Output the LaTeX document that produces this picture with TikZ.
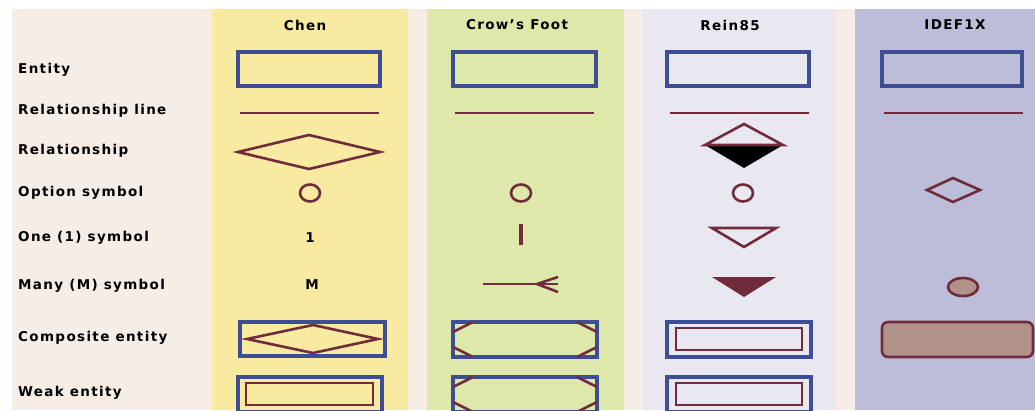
\documentclass[tikz,border=0pt]{standalone}
\usepackage{fontspec}
\newfontfamily\erfont[LetterSpace=10]{DejaVu Sans}
\usetikzlibrary{positioning}
\definecolor{erbg}{RGB}{246,237,230}
\definecolor{chenbg}{RGB}{248,234,160}
\definecolor{crowbg}{RGB}{222,232,170}
\definecolor{reinbg}{RGB}{233,231,240}
\definecolor{idefbg}{RGB}{188,189,216}
\definecolor{erblue}{RGB}{62,78,148}
\definecolor{ermaroon}{RGB}{112,44,60}
\definecolor{erbrown}{RGB}{176,146,136}

% entity box: x, y (top), width
\newcommand{\entbox}[3]{
  \draw[entline] (#1,#2) rectangle +(#3,34);
}
% box with a second box inside: x, y (top)
\newcommand{\dblbox}[2]{
  \draw[entline] (#1,#2) rectangle +(144,35);
  \draw[relline] (#1+9,#2+6) rectangle +(126,22);
}
% crow's foot composite box with the cut corners
\newcommand{\cutbox}[2]{
  \draw[entline] (#1,#2) rectangle +(144,35);
  \draw[relline] (#1,#2+10) -- +(20,-10);
  \draw[relline] (#1,#2+25) -- +(20,10);
  \draw[relline] (#1+144,#2+10) -- +(-20,-10);
  \draw[relline] (#1+144,#2+25) -- +(-20,10);
}

\begin{document}
\begin{tikzpicture}[x=1pt,y=-1pt,
    rowlbl/.style={anchor=west,inner sep=0pt,font=\erfont\bfseries\fontsize{13.5}{15}\selectfont},
    collbl/.style={inner sep=0pt,font=\erfont\bfseries\fontsize{13.5}{15}\selectfont},
    entline/.style={draw=erblue,line width=3.2pt},
    relline/.style={draw=ermaroon,line width=2.6pt},
    symline/.style={draw=ermaroon,line width=2.6pt}]
  \useasboundingbox (0,0) rectangle (1035,410);
  \fill[white] (0,0) rectangle (1035,410);
  \fill[erbg] (12,9) rectangle (1035,410);

  % the four notation columns
  \fill[chenbg] (212,9) rectangle (408,410);
  \fill[crowbg] (427,9) rectangle (624,410);
  \fill[reinbg] (642,9) rectangle (836,410);
  \fill[idefbg] (855,9) rectangle (1035,410);

  \node[collbl] (chen) at (305,25) {Chen};
  \node[collbl] (crow) at (517,25) {Crow’s Foot};
  \node[collbl] (rein) at (730,25) {Rein85};
  \node[collbl] (idef) at (955,25) {IDEF1X};

  \foreach \y/\t [count=\i] in {70/Entity, 111/Relationship line,
      151/Relationship, 193/Option symbol, 238/One (1) symbol,
      286/Many (M) symbol, 338/Composite entity, 393/Weak entity} {
    \node[rowlbl] (row\i) at (18,\y) {\t};
  }

  % entity
  \entbox{238}{52}{142}
  \entbox{453}{52}{143}
  \entbox{667}{52}{142}
  \entbox{882}{52}{140}

  % relationship line
  \foreach \x in {240,455,670,884} {
    \draw[relline] (\x,113) -- +(139,0);
  }

  % relationship
  \draw[symline] (238,152) -- (309,135) -- (380,152) -- (309,169) -- cycle;
  \fill (705,145) -- (783,145) -- (744,168) -- cycle;
  \draw[symline] (705,145) -- (744,124) -- (783,145) -- cycle;

  % option
  \draw[symline] (310,193) ellipse (10pt and 8.5pt);
  \draw[symline] (521,193) ellipse (10pt and 8.5pt);
  \draw[symline] (743,193) ellipse (10pt and 8.5pt);
  \draw[symline] (927,190) -- (953,178) -- (980,190) -- (953,202) -- cycle;

  % one
  \node[collbl] (chenone) at (310,238) {1};
  \draw[symline,line width=3.2pt] (521,224) -- (521,245);
  \draw[symline] (712,228) -- (776,228) -- (744,247) -- cycle;

  % many
  \node[collbl] (chenmany) at (312,285) {M};
  \draw[symline] (483,284) -- (558,284);
  \draw[symline] (558,277) -- (537,284) -- (558,292);
  \fill[ermaroon] (712,277) -- (776,277) -- (744,297) -- cycle;
  \draw[symline,fill=erbrown] (963,287) ellipse (15pt and 9pt);

  % composite entity
  \draw[entline] (240,322) rectangle (385,356);
  \draw[symline] (247,339) -- (313,325) -- (378,339) -- (313,353) -- cycle;
  \cutbox{453}{322}
  \dblbox{667}{322}
  \draw[symline,fill=erbrown,rounded corners=6pt] (882,322) rectangle (1033,357);

  % weak entity
  \draw[entline] (238,377) rectangle (382,412);
  \draw[relline] (246,383) rectangle (373,405);
  \cutbox{453}{377}
  \dblbox{667}{377}
\end{tikzpicture}
\end{document}
